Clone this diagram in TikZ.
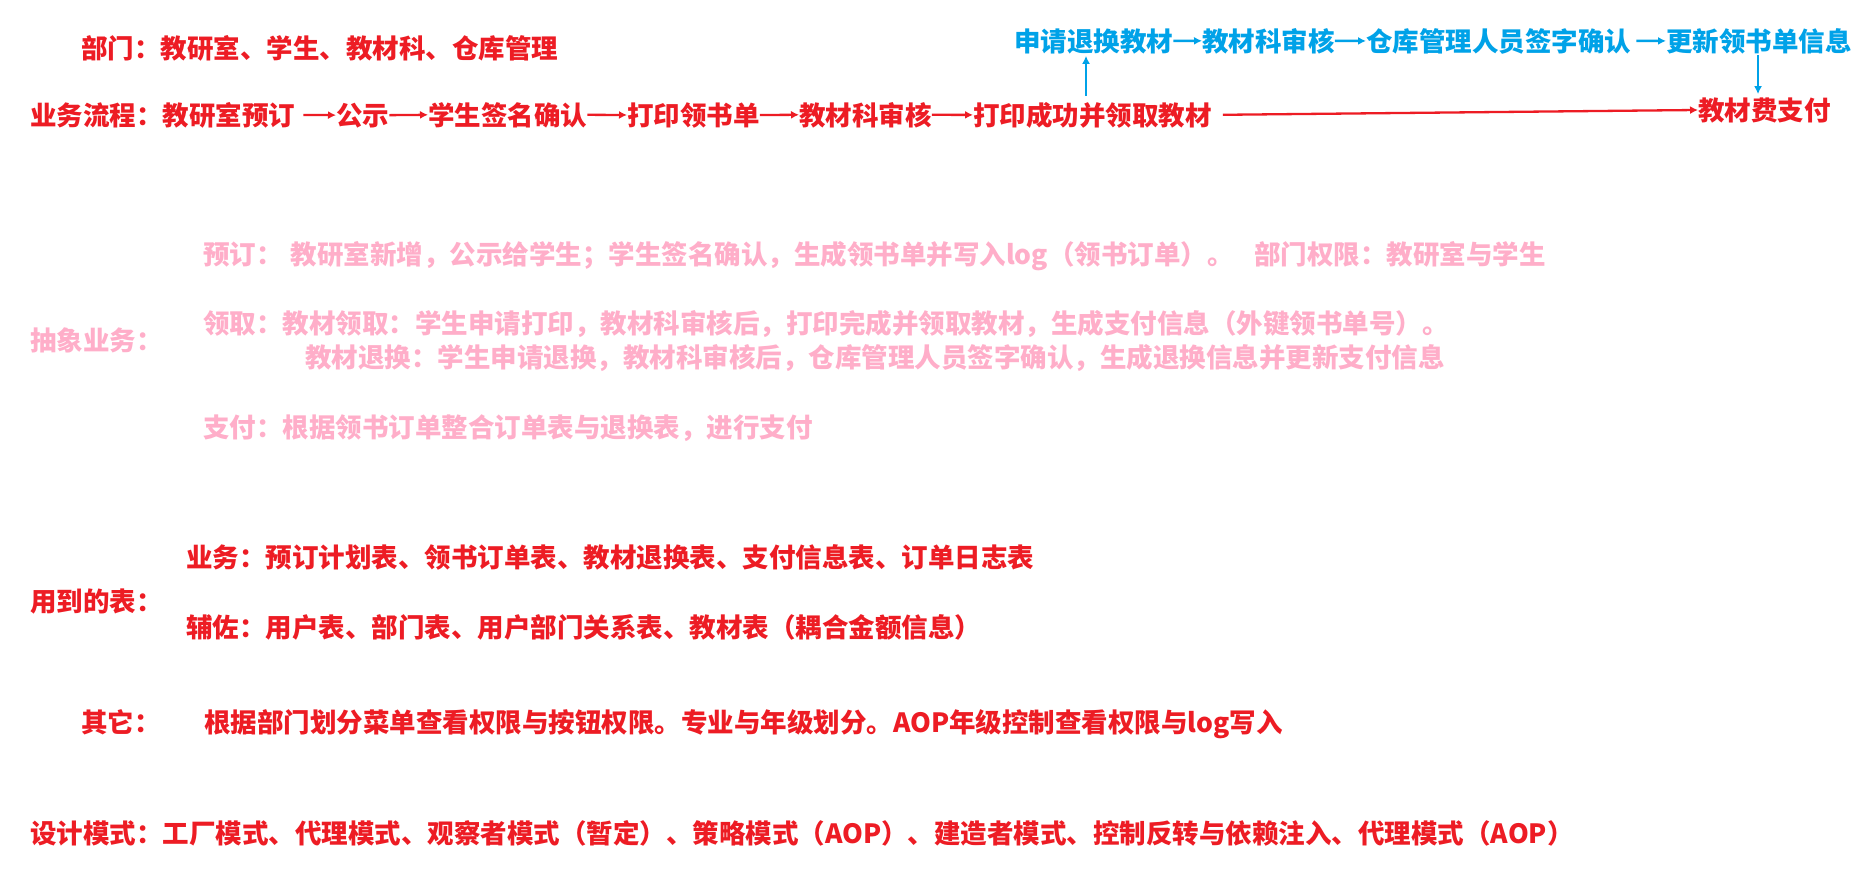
\documentclass[tikz,border=0pt]{standalone}
\usepackage{fontspec}
\newfontfamily\cjk{Noto Sans CJK SC}
\usetikzlibrary{arrows.meta}
\definecolor{pred}{HTML}{ED1C24}
\definecolor{pblue}{HTML}{00A2E8}
\definecolor{ppink}{HTML}{FFAEC9}
\begin{document}
\begin{tikzpicture}[x=1pt,y=-1pt,
  txt/.style={anchor=base west, inner sep=0pt, font=\cjk\bfseries\fontsize{26.5}{30}\selectfont},
  rtxt/.style={txt, text=pred},
  btxt/.style={txt, text=pblue},
  ptxt/.style={txt, text=ppink},
  rarr/.style={draw=pred, line width=2.3pt, -{Latex[length=8pt,width=8pt]}},
  barr/.style={draw=pblue, line width=2.5pt, -{Latex[length=8pt,width=8pt]}}]
\fill[white] (0,0) rectangle (1865,873);
\useasboundingbox (0,0) rectangle (1865,873);

% departments
\node[rtxt] (dept) at (81,58) {部门：教研室、学生、教材科、仓库管理};

% main flow
\node[rtxt] (f1) at (30,125) {业务流程：教研室预订};
\node[rtxt] (f2) at (336,125) {公示};
\node[rtxt] (f3) at (428,125) {学生签名确认};
\node[rtxt] (f4) at (627,125) {打印领书单};
\node[rtxt] (f5) at (799,125) {教材科审核};
\node[rtxt] (f6) at (973,125) {打印成功并领取教材};
\node[rtxt] (pay) at (1698,120) {教材费支付};

\draw[rarr, shorten <=8pt] (f1.east) -- (f2.west);
\draw[rarr] (f2.east) -- (f3.west);
\draw[rarr] (f3.east) -- (f4.west);
\draw[rarr] (f4.east) -- (f5.west);
\draw[rarr] (f5.east) -- (f6.west);
\draw[rarr, shorten <=11pt] (f6.east) -- (pay.west);

% return flow
\node[btxt] (b1) at (1014,51) {申请退换教材};
\node[btxt] (b2) at (1202,51) {教材科审核};
\node[btxt] (b3) at (1366,51) {仓库管理人员签字确认};
\node[btxt] (b4) at (1666,51) {更新领书单信息};

\draw[barr] (b1.east) -- (b2.west);
\draw[barr] (b2.east) -- (b3.west);
\draw[barr, shorten <=5pt] (b3.east) -- (b4.west);

\coordinate (ux) at (1086,0);
\coordinate (dx) at (1758,0);
\draw[barr, shorten <=6pt, shorten >=2pt] (f6.north -| ux) -- (b1.south -| ux);
\draw[barr, shorten <=1pt, shorten >=3pt] (b4.south -| dx) -- (pay.north -| dx);

% abstract business
\node[ptxt] (p1) at (203,264.5) {预订：\hspace{8pt}教研室新增，公示给学生；学生签名确认，生成领书单并写入log（领书订单）。};
\node[ptxt] (p1b) at (1254,264.5) {部门权限：教研室与学生};
\node[ptxt] (pa) at (30,350) {抽象业务：};
\node[ptxt] (p2) at (203,333) {领取：教材领取：学生申请打印，教材科审核后，打印完成并领取教材，生成支付信息（外键领书单号）。};
\node[ptxt] (p3) at (305,367) {教材退换：学生申请退换，教材科审核后，仓库管理人员签字确认，生成退换信息并更新支付信息};
\node[ptxt] (p4) at (203,437) {支付：根据领书订单整合订单表与退换表，进行支付};

% tables
\node[rtxt] (r1) at (186,567) {业务：预订计划表、领书订单表、教材退换表、支付信息表、订单日志表};
\node[rtxt] (r2) at (30,611) {用到的表：};
\node[rtxt] (r3) at (186,637) {辅佐：用户表、部门表、用户部门关系表、教材表（耦合金额信息）};

% other
\node[rtxt] (r4) at (81,732) {其它：};
\node[rtxt] (r5) at (204,732) {根据部门划分菜单查看权限与按钮权限。专业与年级划分。AOP年级控制查看权限与log写入};

% patterns
\node[rtxt] (r6) at (30,843) {设计模式：工厂模式、代理模式、观察者模式（暂定）、策略模式（AOP）、建造者模式、控制反转与依赖注入、代理模式（AOP）};
\end{tikzpicture}
\end{document}
